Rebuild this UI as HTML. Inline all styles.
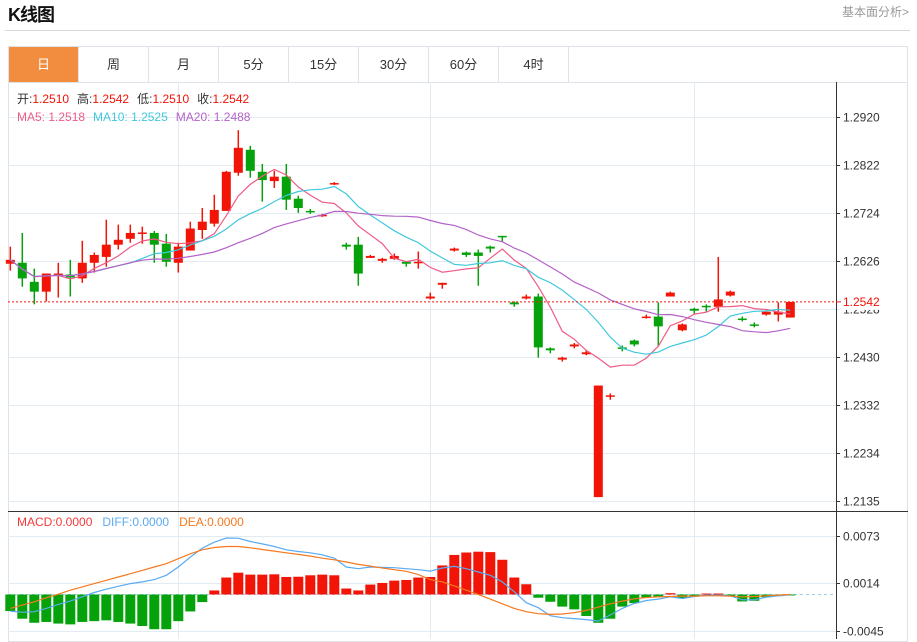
<!DOCTYPE html>
<html><head><meta charset="utf-8"><style>
*{margin:0;padding:0;box-sizing:border-box}
body{width:917px;height:639px;background:#fff;position:relative;overflow:hidden;font-family:"Liberation Sans","Noto Sans CJK SC",sans-serif}
.title{position:absolute;left:8px;top:1px;font-size:18px;font-weight:bold;color:#111;letter-spacing:-1px}
.more{position:absolute;right:8px;top:3px;font-size:12px;color:#999}
.hr{position:absolute;left:5px;top:30px;width:905px;height:1px;background:#d8d8d8}
.tabs{position:absolute;left:8px;top:46px;width:900px;height:37px;border:1px solid #dde3e8;display:flex}
.tab{width:70px;height:35px;border-right:1px solid #dde3e8;font-size:13px;color:#333;text-align:center;line-height:35px}
.tab.on{background:#f28c3e;color:#fff}
.box{position:absolute;left:8px;top:82px;width:900px;height:560px;border:1px solid #dde3e8;border-top:none}
svg{position:absolute;left:0;top:0}
</style></head><body>
<div class="title">K线图</div>
<div class="more">基本面分析&gt;</div>
<div class="hr"></div>
<div class="tabs">
<div class="tab on">日</div>
<div class="tab">周</div>
<div class="tab">月</div>
<div class="tab">5分</div>
<div class="tab">15分</div>
<div class="tab">30分</div>
<div class="tab">60分</div>
<div class="tab">4时</div>
</div>
<div class="box"></div>
<svg id="chart" width="917" height="639"></svg>
<script>
const opens=[1.2620,1.2622,1.2583,1.2563,1.2598,1.2598,1.2590,1.2622,1.2634,1.2659,1.2671,1.2682,1.2683,1.2661,1.2622,1.2647,1.2689,1.2702,1.2728,1.2806,1.2853,1.2808,1.2789,1.2798,1.2753,1.2728,1.2718,1.2783,1.2659,1.2659,1.2632,1.2626,1.2630,1.2624,1.2622,1.2549,1.2577,1.2647,1.2643,1.2643,1.2655,1.2677,1.2541,1.2549,1.2553,1.2447,1.2424,1.2451,1.2435,1.2143,1.2349,1.2449,1.2463,1.2510,1.2512,1.2553,1.2484,1.2528,1.2534,1.2532,1.2555,1.2508,1.2496,1.2516,1.2516,1.2510];
const highs=[1.2655,1.2683,1.2610,1.2600,1.2622,1.2628,1.2667,1.2643,1.2710,1.2700,1.2700,1.2696,1.2687,1.2681,1.2663,1.2706,1.2734,1.2761,1.2810,1.2893,1.2861,1.2824,1.2810,1.2824,1.2759,1.2732,1.2722,1.2787,1.2663,1.2675,1.2638,1.2632,1.2641,1.2624,1.2645,1.2561,1.2581,1.2653,1.2645,1.2649,1.2657,1.2677,1.2543,1.2557,1.2559,1.2449,1.2430,1.2458,1.2443,1.2371,1.2355,1.2453,1.2465,1.2516,1.2541,1.2563,1.2498,1.2530,1.2537,1.2634,1.2565,1.2512,1.2500,1.2522,1.2541,1.2542];
const lows=[1.2606,1.2573,1.2537,1.2543,1.2551,1.2553,1.2581,1.2602,1.2614,1.2649,1.2663,1.2661,1.2622,1.2614,1.2602,1.2647,1.2671,1.2696,1.2728,1.2800,1.2796,1.2747,1.2775,1.2730,1.2724,1.2722,1.2716,1.2781,1.2649,1.2575,1.2632,1.2622,1.2628,1.2614,1.2610,1.2547,1.2569,1.2645,1.2634,1.2575,1.2643,1.2665,1.2532,1.2547,1.2428,1.2437,1.2420,1.2447,1.2433,1.2143,1.2342,1.2441,1.2451,1.2508,1.2451,1.2553,1.2482,1.2518,1.2522,1.2522,1.2553,1.2502,1.2490,1.2514,1.2502,1.2510];
const closes=[1.2628,1.2590,1.2563,1.2600,1.2600,1.2592,1.2622,1.2638,1.2659,1.2669,1.2683,1.2684,1.2659,1.2624,1.2655,1.2692,1.2706,1.2730,1.2808,1.2857,1.2810,1.2791,1.2798,1.2751,1.2734,1.2726,1.2720,1.2785,1.2655,1.2600,1.2636,1.2630,1.2636,1.2620,1.2624,1.2553,1.2581,1.2651,1.2638,1.2636,1.2651,1.2675,1.2537,1.2553,1.2449,1.2443,1.2428,1.2455,1.2439,1.2371,1.2351,1.2447,1.2455,1.2512,1.2492,1.2561,1.2496,1.2524,1.2532,1.2547,1.2563,1.2506,1.2494,1.2522,1.2522,1.2542];
const priceTicks=["1.2920","1.2822","1.2724","1.2626","1.2528","1.2430","1.2332","1.2234","1.2135"];
// MACD values in units of 0.0001
const macdHist=[-20.5,-30,-35,-34,-36,-37,-34,-33,-32,-34,-36,-39,-43,-43,-33,-21,-9.4,5,21,27,24.6,24.6,25,21.7,22,23.8,24.6,23.8,7.4,5,12.3,14.3,17.2,18,21,21.7,36,49,52,53,52.5,43,21,12.7,-4,-9,-15,-18.4,-26.6,-35,-30,-15,-10.7,-3.7,-3.3,1.6,-4.5,-0.8,1.2,1.2,-2,-8.6,-7.8,-3.3,-2,-0.4];
const diffVals=[-20.5,-22.1,-21.3,-17.2,-12.3,-8.2,-2.9,2.5,6.6,10.2,13.5,15.6,18.4,23.8,34,46.3,57.4,64.8,70,69.7,65.6,62.7,59.4,55.3,53.3,51.6,49.2,45,34,32,34,33.6,33.2,32,30.7,29,32.8,34.8,32,27.9,23.8,15.6,3.3,-10.2,-16.4,-26.2,-28.7,-29.9,-31.1,-32.8,-25.4,-17.2,-11.1,-7.4,-5.7,-2.9,-4.9,-2.5,-0.8,-0.8,-1.6,-6.6,-6.6,-3.3,-1.6,-0.4];
const deaVals=[-17.2,-13.1,-9,-4.1,0.4,5.3,9.4,13.5,17.6,21.7,25.8,29.9,34,38.1,44.3,50.4,55.3,58.2,59.4,59.4,57.8,55.7,53.7,51.6,49.6,47.5,45,43,40.2,37.3,35.2,32.8,30.7,28.7,24.6,18.4,15.6,10.7,5.3,0,-5.7,-11.5,-17.2,-21.3,-23.8,-24.6,-24.2,-22.5,-19.7,-15.6,-11.5,-8.2,-5.3,-3.7,-2.9,-2.5,-2,-2,-1.6,-1.6,-2,-2.9,-2.5,-1.6,-0.8,0];
const macdTicks=["0.0073","0.0014","-0.0045"];

const NS="http://www.w3.org/2000/svg";
const svg=document.getElementById('chart');
function mk(tag,attrs,parent){const e=document.createElementNS(NS,tag);for(const k in attrs)e.setAttribute(k,attrs[k]);(parent||svg).appendChild(e);return e;}
const X=i=>10.3+12*i;
const Y=p=>117+(1.2920-p)*(384/(1.2920-1.2135));
const MY=v=>594.5-v*0.8076;
const RED="#f21407",GREEN="#06a20c";

// grid
const grid=mk('g',{});


priceTicks.forEach(t=>{const y=Math.round(Y(parseFloat(t)))+0.5;mk('line',{x1:8,x2:836,y1:y,y2:y,stroke:'#e2ebf1'},grid);});
macdTicks.forEach(t=>{const y=Math.round(MY(parseFloat(t)*1e4))+0.5;mk('line',{x1:8,x2:836,y1:y,y2:y,stroke:'#e2ebf1'},grid);});
[178,430,694].forEach(x=>mk('line',{x1:x+0.5,x2:x+0.5,y1:82,y2:639,stroke:'#e2ebf1'},grid));
// axes
const ax=mk('line',{x1:836.5,x2:836.5,y1:82,y2:639,stroke:'#333'});


const sep=mk('line',{x1:8,x2:908,y1:511.5,y2:511.5,stroke:'#333'});


priceTicks.forEach(t=>{const y=Math.round(Y(parseFloat(t)))+0.5;
 mk('line',{x1:836,x2:840,y1:y,y2:y,stroke:'#333'});
 const tx=mk('text',{x:843,y:y+4,'font-size':12,fill:'#333'});tx.textContent=t;
 
 });
macdTicks.forEach(t=>{const y=Math.round(MY(parseFloat(t)*1e4))+0.5;
 mk('line',{x1:836,x2:840,y1:y,y2:y,stroke:'#333'});
 const tx=mk('text',{x:843,y:y+4,'font-size':12,fill:'#333'});tx.textContent=t;
 
 });

// candles
opens.forEach((o,i)=>{const c=closes[i];const col=c>=o?RED:GREEN;const x=X(i);
 const g=mk('g',{});
 
 
 mk('line',{x1:x,x2:x,y1:Y(highs[i]),y2:Y(lows[i]),stroke:col,'stroke-width':1.5},g);
 const t=Y(Math.max(o,c)),b=Y(Math.min(o,c));
 mk('rect',{x:x-4.5,y:t,width:9,height:Math.max(1.5,b-t),fill:col},g);});

// MAs
function ma(n){return closes.map((_,i)=>{const s=Math.max(0,i-n+1);let a=0;for(let k=s;k<=i;k++)a+=closes[k];return a/(i-s+1);});}
[[5,'#ef5b86','ma5-line'],[10,'#40c8dd','ma10-line'],[20,'#b462c8','ma20-line']].forEach(([n,col,name])=>{
 const d=ma(n).map((v,i)=>(i?'L':'M')+X(i).toFixed(1)+','+Y(v).toFixed(1)).join('');
 const p=mk('path',{d,fill:'none',stroke:col,'stroke-width':1.2});
 
 });

// last price line
const lp=Y(closes[closes.length-1]);
const ll=mk('line',{x1:8,x2:836,y1:lp,y2:lp,stroke:'#f21407','stroke-dasharray':'2,2'});


mk('rect',{x:837,y:lp-8,width:50,height:16,fill:'#fff'});
mk('line',{x1:836,x2:841,y1:lp,y2:lp,stroke:'#f21407'});
const lt=mk('text',{x:843,y:lp+4,'font-size':12,fill:'#f21407'});lt.textContent=closes[closes.length-1].toFixed(4);



// MACD
const z=MY(0);
const zl=mk('line',{x1:8,x2:836,y1:z,y2:z,stroke:'#9fd0e8','stroke-dasharray':'3,3'});


macdHist.forEach((v,i)=>{const y=MY(v);const r=mk('rect',{x:X(i)-5,y:Math.min(y,z),width:10,height:Math.max(1,Math.abs(y-z)),fill:v>=0?RED:GREEN});
 
 });
[[diffVals,'#5aaaf0','diff-line'],[deaVals,'#f5791f','dea-line']].forEach(([arr,col,name])=>{
 const d=arr.map((v,i)=>(i?'L':'M')+X(i).toFixed(1)+','+MY(v).toFixed(1)).join('');
 const p=mk('path',{d,fill:'none',stroke:col,'stroke-width':1.2});
 
 });

// legends
function legend(y,parts,name){const t=mk('text',{x:17,y,'font-size':12});
 
 
 parts.forEach(([s,c,dx])=>{const ts=mk('tspan',{fill:c},t);if(dx)ts.setAttribute('dx',dx);ts.textContent=s;});}
legend(103,[['开:','#333'],['1.2510','#f21407'],['高:','#333',8],['1.2542','#f21407'],['低:','#333',8],['1.2510','#f21407'],['收:','#333',8],['1.2542','#f21407']],'ohlc-legend');
legend(121,[['MA5: 1.2518','#ef5b86'],['MA10: 1.2525','#40c8dd',8],['MA20: 1.2488','#b462c8',8]],'ma-legend');
legend(526,[['MACD:0.0000','#f23a3a'],['DIFF:0.0000','#5aaaf0',10],['DEA:0.0000','#f5791f',10]],'macd-legend');
</script>
</body></html>
